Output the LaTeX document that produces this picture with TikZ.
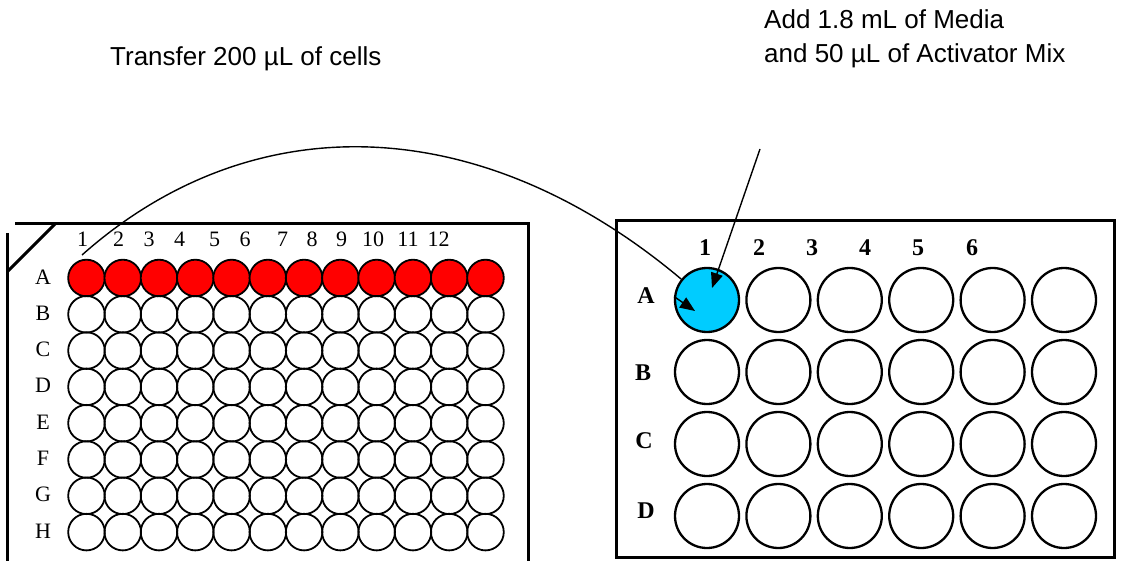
\documentclass[tikz,border=0pt]{standalone}
\usepackage{fontspec}
\setmainfont{Liberation Serif}
\newfontfamily\arialf{Liberation Sans}
\usetikzlibrary{arrows.meta,backgrounds}
\begin{document}
\begin{tikzpicture}[x=1pt,y=-1pt,
  frame/.style={line width=3pt},
  swell/.style={circle,draw,line width=1.8pt,minimum size=36.6pt,inner sep=0pt},
  bwell/.style={circle,draw,line width=2.3pt,minimum size=64pt,inner sep=0pt},
  sanslbl/.style={font=\arialf\fontsize{26}{30}\selectfont,anchor=base west,inner sep=0pt},
  slbl/.style={font=\fontsize{22}{24}\selectfont,anchor=base,inner sep=0pt},
  blbl/.style={font=\bfseries\fontsize{24}{26}\selectfont,anchor=base,inner sep=0pt},
  conn/.style={line width=1.4pt},
  arr/.style={line width=1.4pt,-{Triangle[length=15pt,width=12pt]}},
]
\useasboundingbox (0,0) rectangle (1123,561);

% texts
\node[sanslbl] (t1) at (110,66) {Transfer 200 µL of cells};
\node[sanslbl] (t2) at (764,29) {Add 1.8 mL of Media};
\node[sanslbl] (t3) at (764,63) {and 50 µL of Activator Mix};

% left plate frame
\draw[frame] (15,224) -- (528,224) -- (528,561);
\draw[frame] (7,233) -- (7,561);
\draw[frame] (8,271) -- (55,224);

% left plate column labels
\foreach \c/\x in {1/82.6,2/118.5,3/149,4/179.5,5/214.6,6/245,7/282.5,8/312,9/341.7,10/373,11/408,12/438.6}{
  \node[slbl] (LC\c) at (\x,246) {\c};
}
% left plate row labels
\foreach \r/\j in {A/0,B/1,C/2,D/3,E/4,F/5,G/6,H/7}{
  \node[slbl] (LR\r) at (43,{278+36.3*\j+6}) {\r};
}
% left plate wells
\foreach \c in {1,...,12}{
  \node[swell,fill=red] (LA\c) at ({86.5+36.27*(\c-1)},278) {};
}
\foreach \r/\j in {B/1,C/2,D/3,E/4,F/5,G/6,H/7}{
  \foreach \c in {1,...,12}{
    \node[swell] (L\r\c) at ({86.5+36.27*(\c-1)},{278+36.3*\j}) {};
  }
}

% right plate frame
\draw[frame] (616,221) rectangle (1114,557);
\foreach \c/\x in {1/705,2/759,3/812,4/865,5/918,6/972}{
  \node[blbl] (RC\c) at (\x,255) {\c};
}
\foreach \r/\x/\y in {A/646/303,B/643/380,C/644/448,D/646/518}{
  \node[blbl] (RR\r) at (\x,\y) {\r};
}
\node[bwell,fill={rgb,255:red,0;green,204;blue,255}] (RA1) at (707,300) {};
\foreach \c in {2,...,6}{
  \node[bwell] (RA\c) at ({707+71.4*(\c-1)},300) {};
}
\foreach \r/\j in {B/1,C/2,D/3}{
  \foreach \c in {1,...,6}{
    \node[bwell] (R\r\c) at ({707+71.4*(\c-1)},{300+72*\j}) {};
  }
}

% connectors
\coordinate (src) at (82,255);
\coordinate (tip1) at (695,311);
\coordinate (src2) at (760,149);
\coordinate (tip2) at (712,288);
\begin{scope}[on background layer]
  \draw[conn] (src) .. controls (252,104) and (480,110) .. (RA1.141);
\end{scope}
\draw[arr] (RA1.174) -- (tip1);
\draw[arr] (src2) -- (tip2);
\end{tikzpicture}
\end{document}
